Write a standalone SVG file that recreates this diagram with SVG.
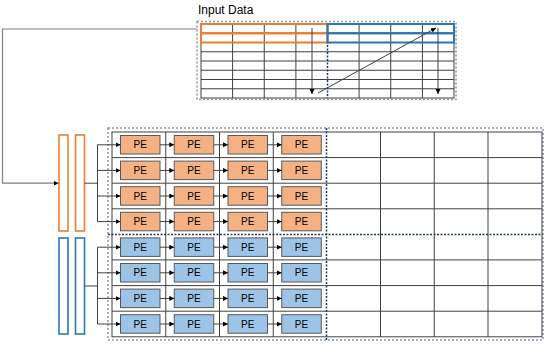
<svg xmlns="http://www.w3.org/2000/svg" width="550" height="349" viewBox="0 0 550 349">
<defs>
<marker id="ah" markerUnits="userSpaceOnUse" markerWidth="6" markerHeight="6" refX="5" refY="2.5" orient="auto">
<path d="M0,0 L5,2.5 L0,5 z" fill="#000"/>
</marker>
<style>
.grid{stroke:#404040;stroke-width:1;fill:none}
.outer{stroke:#8497b0;stroke-width:1.5;stroke-dasharray:2,2;fill:none}
.div{stroke:#1f3864;stroke-width:1.5;stroke-dasharray:2,1.5;fill:none}
.or{stroke:#ed7d31;stroke-width:2;fill:none}
.bl{stroke:#2e75b6;stroke-width:2;fill:none}
.barO{stroke:#ed7d31;stroke-width:1.6;fill:#fff}
.barB{stroke:#2e75b6;stroke-width:1.6;fill:#fff}
.peO rect{fill:#f4b183;stroke:#595959;stroke-width:1}
.peB rect{fill:#9dc3e6;stroke:#595959;stroke-width:1}
.pe text{font-family:"Liberation Sans",Arial,sans-serif;font-size:10px;fill:#000;text-anchor:middle}
.cn{stroke:#404040;stroke-width:1;fill:none}
.cna{stroke:#404040;stroke-width:1;fill:none;marker-end:url(#ah)}
.feed{stroke:#7f7f7f;stroke-width:1.2;fill:none;marker-end:url(#ah)}
.title{font-family:"Liberation Sans",Arial,sans-serif;font-size:12px;fill:#000}
</style>
</defs>
<rect width="550" height="349" fill="#fff"/>

<g id="input-data">
<text class="title" x="198" y="14">Input Data</text>
<rect class="outer" x="197" y="21.5" width="259" height="78"/>
<g class="grid">
<rect x="201" y="24" width="253" height="74"/>
<path d="M201,33.25H454M201,42.5H454M201,51.75H454M201,61H454M201,70.25H454M201,79.5H454M201,88.75H454"/>
<path d="M232.6,24V98M264.25,24V98M295.9,24V98M359.1,24V98M390.75,24V98M422.4,24V98"/>
</g>
<line class="div" x1="327.5" y1="24" x2="327.5" y2="98"/>
<rect class="or" x="201" y="24" width="126.5" height="9.25"/>
<rect class="or" x="201" y="33.25" width="126.5" height="9.25"/>
<rect class="bl" x="327.5" y="24" width="126.5" height="9.25"/>
<rect class="bl" x="327.5" y="33.25" width="126.5" height="9.25"/>
</g>

<g id="pe-array">
<rect class="outer" x="108" y="128" width="435" height="212"/>
<g class="grid">
<rect x="112" y="132" width="430" height="204.8"/>
<path d="M112,157.6H542M112,183.2H542M112,208.8H542M112,259.9H542M112,285.6H542M112,311.2H542"/>
<path d="M165.75,132V336.8M219.5,132V336.8M273.25,132V336.8M380.5,132V336.8M434.25,132V336.8M488,132V336.8"/>
</g>
<line class="div" x1="326.5" y1="128" x2="326.5" y2="340"/>
<line class="div" x1="108" y1="234.4" x2="543" y2="234.4"/>
</g>

<g id="orange-buffers">
<rect class="barO" x="59" y="135" width="9" height="96"/>
<rect class="barO" x="75.5" y="135" width="9" height="96"/>
</g>
<g id="blue-buffers">
<rect class="barB" x="59" y="238" width="9" height="96"/>
<rect class="barB" x="75.5" y="238" width="9" height="96"/>
</g>

<g id="pes" class="pe">
<g class="peO">
<rect x="120.5" y="135.5" width="39.5" height="18.5"/><rect x="174.25" y="135.5" width="39.5" height="18.5"/><rect x="228" y="135.5" width="39.5" height="18.5"/><rect x="281.75" y="135.5" width="39.5" height="18.5"/>
<rect x="120.5" y="161.1" width="39.5" height="18.5"/><rect x="174.25" y="161.1" width="39.5" height="18.5"/><rect x="228" y="161.1" width="39.5" height="18.5"/><rect x="281.75" y="161.1" width="39.5" height="18.5"/>
<rect x="120.5" y="186.7" width="39.5" height="18.5"/><rect x="174.25" y="186.7" width="39.5" height="18.5"/><rect x="228" y="186.7" width="39.5" height="18.5"/><rect x="281.75" y="186.7" width="39.5" height="18.5"/>
<rect x="120.5" y="212.3" width="39.5" height="18.5"/><rect x="174.25" y="212.3" width="39.5" height="18.5"/><rect x="228" y="212.3" width="39.5" height="18.5"/><rect x="281.75" y="212.3" width="39.5" height="18.5"/>
</g>
<g class="peB">
<rect x="120.5" y="237.9" width="39.5" height="18.5"/><rect x="174.25" y="237.9" width="39.5" height="18.5"/><rect x="228" y="237.9" width="39.5" height="18.5"/><rect x="281.75" y="237.9" width="39.5" height="18.5"/>
<rect x="120.5" y="263.5" width="39.5" height="18.5"/><rect x="174.25" y="263.5" width="39.5" height="18.5"/><rect x="228" y="263.5" width="39.5" height="18.5"/><rect x="281.75" y="263.5" width="39.5" height="18.5"/>
<rect x="120.5" y="289.1" width="39.5" height="18.5"/><rect x="174.25" y="289.1" width="39.5" height="18.5"/><rect x="228" y="289.1" width="39.5" height="18.5"/><rect x="281.75" y="289.1" width="39.5" height="18.5"/>
<rect x="120.5" y="314.7" width="39.5" height="18.5"/><rect x="174.25" y="314.7" width="39.5" height="18.5"/><rect x="228" y="314.7" width="39.5" height="18.5"/><rect x="281.75" y="314.7" width="39.5" height="18.5"/>
</g>
<g>
<text x="140.25" y="148.3">PE</text><text x="194" y="148.3">PE</text><text x="247.75" y="148.3">PE</text><text x="301.5" y="148.3">PE</text>
<text x="140.25" y="173.9">PE</text><text x="194" y="173.9">PE</text><text x="247.75" y="173.9">PE</text><text x="301.5" y="173.9">PE</text>
<text x="140.25" y="199.5">PE</text><text x="194" y="199.5">PE</text><text x="247.75" y="199.5">PE</text><text x="301.5" y="199.5">PE</text>
<text x="140.25" y="225.1">PE</text><text x="194" y="225.1">PE</text><text x="247.75" y="225.1">PE</text><text x="301.5" y="225.1">PE</text>
<text x="140.25" y="250.7">PE</text><text x="194" y="250.7">PE</text><text x="247.75" y="250.7">PE</text><text x="301.5" y="250.7">PE</text>
<text x="140.25" y="276.3">PE</text><text x="194" y="276.3">PE</text><text x="247.75" y="276.3">PE</text><text x="301.5" y="276.3">PE</text>
<text x="140.25" y="301.9">PE</text><text x="194" y="301.9">PE</text><text x="247.75" y="301.9">PE</text><text x="301.5" y="301.9">PE</text>
<text x="140.25" y="327.5">PE</text><text x="194" y="327.5">PE</text><text x="247.75" y="327.5">PE</text><text x="301.5" y="327.5">PE</text>
</g>
</g>

<g id="connectors">
<polyline class="feed" points="197,29 2.5,29 2.5,183.2 58.5,183.2"/>
<line class="cna" x1="312" y1="28" x2="312" y2="94"/>
<line class="cna" x1="438" y1="28" x2="438" y2="94"/>
<line class="cna" x1="318" y1="93" x2="436" y2="28"/>
<line class="cn" x1="84.5" y1="183.2" x2="97.5" y2="183.2"/>
<line class="cn" x1="97.5" y1="144.8" x2="97.5" y2="221.6"/>
<line class="cn" x1="84.5" y1="286" x2="97.5" y2="286"/>
<line class="cn" x1="97.5" y1="247.2" x2="97.5" y2="324"/>
<g id="row-links">
<path class="cna" d="M97.5,144.8H120.5"/><path class="cna" d="M160,144.8H174.25"/><path class="cna" d="M213.75,144.8H228"/><path class="cna" d="M267.5,144.8H281.75"/>
<path class="cna" d="M97.5,170.4H120.5"/><path class="cna" d="M160,170.4H174.25"/><path class="cna" d="M213.75,170.4H228"/><path class="cna" d="M267.5,170.4H281.75"/>
<path class="cna" d="M97.5,196H120.5"/><path class="cna" d="M160,196H174.25"/><path class="cna" d="M213.75,196H228"/><path class="cna" d="M267.5,196H281.75"/>
<path class="cna" d="M97.5,221.6H120.5"/><path class="cna" d="M160,221.6H174.25"/><path class="cna" d="M213.75,221.6H228"/><path class="cna" d="M267.5,221.6H281.75"/>
<path class="cna" d="M97.5,247.2H120.5"/><path class="cna" d="M160,247.2H174.25"/><path class="cna" d="M213.75,247.2H228"/><path class="cna" d="M267.5,247.2H281.75"/>
<path class="cna" d="M97.5,272.8H120.5"/><path class="cna" d="M160,272.8H174.25"/><path class="cna" d="M213.75,272.8H228"/><path class="cna" d="M267.5,272.8H281.75"/>
<path class="cna" d="M97.5,298.4H120.5"/><path class="cna" d="M160,298.4H174.25"/><path class="cna" d="M213.75,298.4H228"/><path class="cna" d="M267.5,298.4H281.75"/>
<path class="cna" d="M97.5,324H120.5"/><path class="cna" d="M160,324H174.25"/><path class="cna" d="M213.75,324H228"/><path class="cna" d="M267.5,324H281.75"/>
</g>
</g>
</svg>
